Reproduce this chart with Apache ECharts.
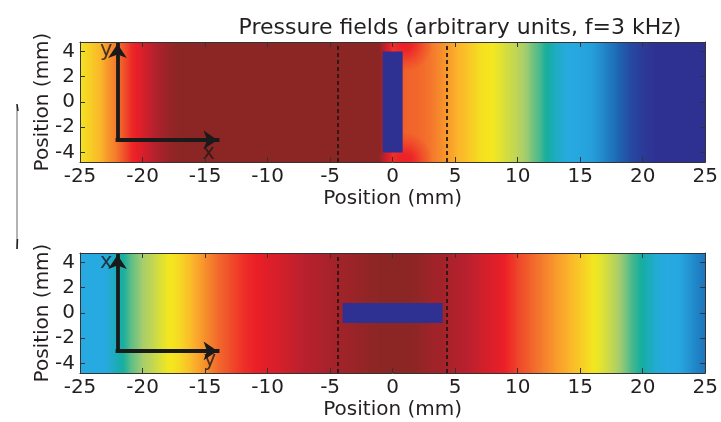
<!DOCTYPE html>
<html>
<head>
<meta charset="utf-8">
<title>Pressure fields</title>
<script src="https://cdn.jsdelivr.net/npm/echarts@6/dist/echarts.min.js"></script>
<style>
    html, body { margin: 0; padding: 0; background: #fff; }
    #main { width: 721px; height: 422px; }
</style>
</head>
<body>
<div id="main"></div>
<script>
// positions along the duct (mm), one field column every 1 mm
var POSITIONS = [-25, -24, -23, -22, -21, -20, -19, -18, -17, -16, -15, -14, -13, -12, -11, -10, -9, -8, -7, -6, -5, -4, -3, -2, -1,
    0, 1, 2, 3, 4, 5, 6, 7, 8, 9, 10, 11, 12, 13, 14, 15, 16, 17, 18, 19, 20, 21, 22, 23, 24, 25];
// pressure amplitude (arbitrary units, 0..1)
var TOP_FIELD = [0.57, 0.62, 0.68, 0.73, 0.80, 0.85, 0.91, 0.97, 1.00, 1.00, 1.00, 1.00, 1.00, 1.00, 1.00, 1.00, 1.00, 1.00, 1.00, 1.00, 1.00, 1.00, 1.00, 1.00, 1.00,
    0.78, 0.75, 0.745, 0.73, 0.70, 0.67, 0.63, 0.58, 0.56, 0.52, 0.48, 0.43, 0.38, 0.32, 0.28, 0.27, 0.25, 0.18, 0.11, 0.05, 0.02, 0.0, 0.0, 0.0, 0.0, 0.0];
var BOTTOM_FIELD = [0.28, 0.28, 0.28, 0.33, 0.40, 0.45, 0.50, 0.555, 0.59, 0.66, 0.70, 0.74, 0.77, 0.80, 0.82, 0.84, 0.86, 0.88, 0.90, 0.92, 0.94, 0.955, 0.97, 0.985, 1.00,
    1.00, 1.00, 0.99, 0.96, 0.95, 0.92, 0.90, 0.87, 0.845, 0.82, 0.78, 0.75, 0.72, 0.69, 0.665, 0.62, 0.565, 0.52, 0.46, 0.40, 0.355, 0.30, 0.28, 0.27, 0.20, 0.14];
// red spots at the plate corners in the top panel: x, y, value, radius (mm)
var TOP_HOTSPOTS = [[1.0, 4.6, 0.82, 2.2], [1.0, -4.6, 0.82, 2.2]];

var Y_RANGE = [-4.75, 4.75];
var Y_TICKS = [-4, -2, 0, 2, 4];
// plates: x0, x1, y0, y1
var TOP_PLATE = [[-0.8, 0.8, -4, 4]];
var BOTTOM_PLATE = [[-4, 4, -0.8, 0.8]];
var DASHED_X = [-4.4, 4.3];
var ARROW_ORIGIN = [-22, -3];
var ARROW_TIPS = [[-22, 4.6], [-14, -3]];
var TOP_ARROW_LABELS = [{name: 'y', value: [-22.9, 4.1]}, {name: 'x', value: [-14.7, -4.1]}];
var BOTTOM_ARROW_LABELS = [{name: 'x', value: [-22.9, 4.0]}, {name: 'y', value: [-14.6, -3.75]}];

var COLOR_STOPS = [0, 0.12, 0.28, 0.36, 0.45, 0.56, 0.66, 0.74, 0.82, 0.90, 1.0];
var COLOR_HEX = ['#2e3192', '#1c6db6', '#27aae1', '#14ad9f', '#a5cd6e', '#f4e81f', '#fbb52b', '#f26b2c', '#ec1f27', '#b9202e', '#8b2624'];

var FONT = 'DejaVu Sans';
var TEXT_COLOR = '#231f20';

function hexRgb(h) {
    return [parseInt(h.substr(1, 2), 16), parseInt(h.substr(3, 2), 16), parseInt(h.substr(5, 2), 16)];
}
function fieldRgb(v) {
    v = Math.max(0, Math.min(1, v));
    for (var i = 1; i < COLOR_STOPS.length; i++) {
        if (v <= COLOR_STOPS[i]) {
            var t = (v - COLOR_STOPS[i - 1]) / (COLOR_STOPS[i] - COLOR_STOPS[i - 1]);
            var a = hexRgb(COLOR_HEX[i - 1]), b = hexRgb(COLOR_HEX[i]);
            return [0, 1, 2].map(function (k) { return Math.round(a[k] + (b[k] - a[k]) * t); });
        }
    }
    return hexRgb(COLOR_HEX[COLOR_HEX.length - 1]);
}
function fieldColor(v, alpha) {
    var c = fieldRgb(v);
    return 'rgba(' + c[0] + ',' + c[1] + ',' + c[2] + ',' + (alpha == null ? 1 : alpha) + ')';
}

function fieldData(values) {
    var out = [];
    for (var i = 0; i < POSITIONS.length - 1; i++) {
        out.push([POSITIONS[i], POSITIONS[i + 1], values[i], values[i + 1]]);
    }
    return out;
}

function renderField(params, api) {
    var v0 = api.value(2), v1 = api.value(3);
    var p0 = api.coord([api.value(0), Y_RANGE[1]]);
    var p1 = api.coord([api.value(1), Y_RANGE[0]]);
    var stops = [];
    for (var k = 0; k <= 4; k++) {
        stops.push({offset: k / 4, color: fieldColor(v0 + (v1 - v0) * k / 4)});
    }
    return {
        type: 'rect',
        shape: {x: p0[0] - 0.5, y: p0[1], width: p1[0] - p0[0] + 1, height: p1[1] - p0[1]},
        style: {fill: new echarts.graphic.LinearGradient(0, 0, 1, 0, stops)}
    };
}

function renderHotspot(params, api) {
    var c = api.coord([api.value(0), api.value(1)]);
    var r = api.size([api.value(3), 0])[0];
    var v = api.value(2);
    return {
        type: 'circle',
        shape: {cx: c[0], cy: c[1], r: r},
        style: {
            fill: new echarts.graphic.RadialGradient(0.5, 0.5, 0.5, [
                {offset: 0, color: fieldColor(v, 1)},
                {offset: 0.25, color: fieldColor(v, 0.9)},
                {offset: 0.65, color: fieldColor(v, 0.35)},
                {offset: 1, color: fieldColor(v, 0)}
            ])
        }
    };
}

function renderPlate(params, api) {
    var p0 = api.coord([api.value(0), api.value(3)]);
    var p1 = api.coord([api.value(1), api.value(2)]);
    return {
        type: 'rect',
        shape: {x: p0[0], y: p0[1], width: p1[0] - p0[0], height: p1[1] - p0[1]},
        style: {fill: '#2e3192'}
    };
}

var labelStyle = {fontFamily: FONT, fontSize: 20, color: TEXT_COLOR};

function xAxis(gridIndex, bottom) {
    return {
        type: 'value', gridIndex: gridIndex, position: bottom ? 'bottom' : 'top',
        min: -25, max: 25, interval: 5, z: 10,
        axisLine: {show: true, onZero: false, lineStyle: {color: '#333', width: 1}},
        axisTick: {show: true, inside: true, length: 5, lineStyle: {color: '#333'}},
        axisLabel: Object.assign({show: bottom, margin: 5}, labelStyle),
        splitLine: {show: false},
        name: bottom ? 'Position (mm)' : '',
        nameLocation: 'middle', nameGap: 27, nameMoveOverlap: false,
        nameTextStyle: labelStyle
    };
}
function yAxis(gridIndex, left) {
    return {
        type: 'value', gridIndex: gridIndex, position: left ? 'left' : 'right',
        min: Y_RANGE[0], max: Y_RANGE[1], z: 10,
        axisLine: {show: true, onZero: false, lineStyle: {color: '#333', width: 1}},
        axisTick: {show: true, inside: true, length: 5, customValues: Y_TICKS, lineStyle: {color: '#333'}},
        axisLabel: Object.assign({show: left, margin: 5, customValues: Y_TICKS}, labelStyle),
        splitLine: {show: false},
        name: left ? 'Position (mm)' : '',
        nameLocation: 'middle', nameGap: 27, nameMoveOverlap: false,
        nameTextStyle: labelStyle
    };
}

function panelSeries(idx, field, plate, hotspots, labels) {
    var list = [
        {
            type: 'custom', xAxisIndex: idx, yAxisIndex: idx, clip: true, silent: true,
            renderItem: renderField, data: fieldData(field), z: 1,
            markLine: {
                symbol: 'none', silent: true, label: {show: false},
                lineStyle: {type: [4, 3], color: '#2a1515', width: 1.8, opacity: 1},
                data: DASHED_X.map(function (x) { return {xAxis: x}; })
            }
        }
    ];
    if (hotspots.length) {
        list.push({
            type: 'custom', xAxisIndex: idx, yAxisIndex: idx, clip: true, silent: true,
            renderItem: renderHotspot, data: hotspots, z: 2
        });
    }
    list.push({
        type: 'custom', xAxisIndex: idx, yAxisIndex: idx, clip: true, silent: true,
        renderItem: renderPlate, data: plate, z: 3
    });
    list.push({
        type: 'lines', coordinateSystem: 'cartesian2d', xAxisIndex: idx, yAxisIndex: idx, silent: true,
        symbol: ['none', 'arrow'], symbolSize: 14, z: 4,
        lineStyle: {color: '#1a1a1a', width: 3.8, opacity: 1, cap: 'square'},
        data: ARROW_TIPS.map(function (t) { return {coords: [ARROW_ORIGIN, t]}; })
    });
    list.push({
        type: 'scatter', xAxisIndex: idx, yAxisIndex: idx, silent: true, symbolSize: 1, z: 5,
        itemStyle: {color: 'rgba(0,0,0,0)'},
        label: {show: true, position: 'inside', formatter: '{b}', fontFamily: FONT, fontSize: 21, color: '#1a1a1a'},
        data: labels
    });
    return list;
}

var chart = echarts.init(document.getElementById('main'));
chart.setOption({
    animation: false,
    backgroundColor: '#fff',
    title: {
        text: 'Pressure fields (arbitrary units, f=3 kHz)',
        left: 455, top: 12, textAlign: 'center',
        textStyle: {fontFamily: FONT, fontSize: 22, fontWeight: 'normal', color: TEXT_COLOR}
    },
    grid: [
        {left: 80, top: 42, width: 630, height: 120},
        {left: 80, top: 253, width: 630, height: 120}
    ],
    xAxis: [xAxis(0, true), xAxis(0, false), xAxis(1, true), xAxis(1, false)],
    yAxis: [yAxis(0, true), yAxis(0, false), yAxis(1, true), yAxis(1, false)],
    graphic: [
        {type: 'line', shape: {x1: 17, y1: 105, x2: 17, y2: 249}, style: {stroke: '#666', lineWidth: 1}},
        {type: 'line', shape: {x1: 17, y1: 104, x2: 18, y2: 111}, style: {stroke: '#222', lineWidth: 1.5}},
        {type: 'line', shape: {x1: 17.5, y1: 239, x2: 17, y2: 249}, style: {stroke: '#222', lineWidth: 1.5}}
    ],
    series: [].concat(
        panelSeries(0, TOP_FIELD, TOP_PLATE, TOP_HOTSPOTS, TOP_ARROW_LABELS),
        panelSeries(2, BOTTOM_FIELD, BOTTOM_PLATE, [], BOTTOM_ARROW_LABELS)
    )
});
</script>
</body>
</html>
